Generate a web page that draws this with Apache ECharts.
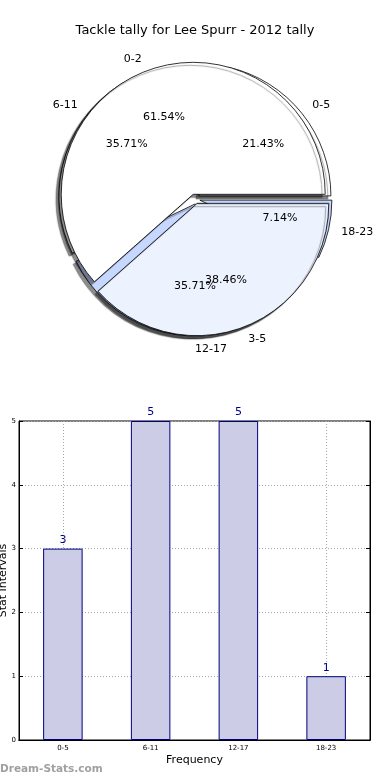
<!DOCTYPE html>
<html><head><meta charset="utf-8">
<script src="https://cdn.jsdelivr.net/npm/echarts@6/dist/echarts.min.js"></script>
<style>html,body{margin:0;padding:0;background:#fff}#c{width:390px;height:780px}</style>
</head><body><div id="c"></div>
<script>
var titleText = 'Tackle tally for Lee Spurr - 2012 tally';
var pieANames = ['0-2', '3-5'];
var pieAValues = [8, 5];
var pieBNames = ['0-5', '6-11', '12-17', '18-23'];
var pieBValues = [3, 5, 5, 1];
var barCategories = ['0-5', '6-11', '12-17', '18-23'];
var barValues = [3, 5, 5, 1];
var yTicks = [0, 1, 2, 3, 4, 5];

var FONT = 'DejaVu Sans';
var R = 132, CX = 195, CY = 199, EXPLODE = 5;
var pieAColors = ['#ffffff', '#edf2ff'];
var pieBColors = ['#ffffff', '#ffffff', '#c6d8ff', '#c6d8ff'];

function sum(a) { return a.reduce(function (s, v) { return s + v; }, 0); }
// matplotlib aligns an outer label left when cos(mid) >= 0 (rounding), right otherwise
function leftAligned(values) {
  var tot = sum(values), acc = 0;
  return values.map(function (v) {
    var mid = (acc + v / 2) / tot * 2 * Math.PI; acc += v;
    return Math.cos(mid) > -1e-6;
  });
}
function mk(names, values, colors) {
  return names.map(function (n, i) {
    return { name: n, value: values[i], selected: true, itemStyle: { color: colors[i] } };
  });
}
function pctFmt(values) {
  var tot = sum(values);
  return function (p) { return (p.value / tot * 100).toFixed(2) + '%'; };
}

var shadow = { shadowColor: 'rgba(0,0,0,0.45)', shadowBlur: 1, shadowOffsetX: -3, shadowOffsetY: 3 };
function shapeSeries(names, values, colors, z) {
  var la = leftAligned(values);
  return {
    type: 'pie', center: [CX, CY], radius: [0, R], startAngle: 0, clockwise: false,
    selectedMode: 'multiple', selectedOffset: EXPLODE, avoidLabelOverlap: false, silent: true, z: z,
    itemStyle: Object.assign({ borderColor: '#000', borderWidth: 0.8 }, shadow),
    label: { show: true, position: 'outside', fontFamily: FONT, fontSize: 11, color: '#000', distanceToLabelLine: 0 },
    labelLine: { show: false, length: 13, length2: 0 },
    labelLayout: function (p) { return { hideOverlap: false, align: la[p.dataIndex] ? 'left' : 'right' }; },
    emphasis: { disabled: true },
    animation: false,
    data: mk(names, values, colors)
  };
}
function pctSeries(names, values, z) {
  return {
    type: 'pie', center: [CX, CY], radius: [R * 0.2, R], startAngle: 0, clockwise: false,
    selectedMode: 'multiple', selectedOffset: EXPLODE, avoidLabelOverlap: false, silent: true, z: z,
    itemStyle: { color: 'rgba(0,0,0,0)', borderWidth: 0 },
    label: { show: true, position: 'inside', formatter: pctFmt(values), fontFamily: FONT, fontSize: 11, color: '#000' },
    labelLine: { show: false },
    labelLayout: { hideOverlap: false },
    emphasis: { disabled: true },
    animation: false,
    data: mk(names, values, names.map(function () { return 'rgba(0,0,0,0)'; }))
  };
}

var gridDots = { color: '#a8a8a8', type: [1, 2], width: 1 };
var chart = echarts.init(document.getElementById('c'), null, { renderer: 'canvas' });
chart.setOption({
  backgroundColor: '#fff',
  animation: false,
  title: { text: titleText, left: 'center', top: 19, textStyle: { fontFamily: FONT, fontSize: 13, fontWeight: 'normal', color: '#000' } },
  graphic: [{ type: 'text', left: 0, top: 764, style: { text: 'Dream-Stats.com', font: 'bold 10.5px "DejaVu Sans"', fill: '#a0a0a0' } }],
  grid: { left: 19, right: 20, top: 421, bottom: 40, outerBoundsMode: 'none', containLabel: false, show: true, borderColor: '#000', borderWidth: 1, backgroundColor: '#fff' },
  xAxis: [{
    type: 'category', data: barCategories, boundaryGap: true,
    name: 'Frequency', nameLocation: 'middle', nameGap: 15, nameMoveOverlap: false,
    nameTextStyle: { fontFamily: FONT, fontSize: 11, color: '#000', verticalAlign: 'top' },
    axisLine: { lineStyle: { color: '#000' } },
    axisTick: { alignWithLabel: true, inside: true, length: 4, lineStyle: { color: '#000' } },
    axisLabel: { fontFamily: FONT, fontSize: 7, color: '#000', margin: 5 },
    splitLine: { show: true, alignWithLabel: true, lineStyle: gridDots }
  }, {
    type: 'category', data: barCategories, boundaryGap: true, position: 'top',
    axisLine: { lineStyle: { color: '#000' } },
    axisTick: { alignWithLabel: true, inside: true, length: 4, lineStyle: { color: '#000' } },
    axisLabel: { show: false }, splitLine: { show: false }
  }],
  yAxis: [{
    type: 'value', min: 0, max: 5, interval: 1,
    name: 'Stat Intervals', nameLocation: 'middle', nameGap: 10, nameMoveOverlap: false,
    nameTextStyle: { fontFamily: FONT, fontSize: 11, color: '#000' },
    axisLine: { show: true, lineStyle: { color: '#000' } },
    axisTick: { show: true, inside: true, length: 4, lineStyle: { color: '#000' } },
    axisLabel: { fontFamily: FONT, fontSize: 7, color: '#000', margin: 3, formatter: function (v) { return yTicks.indexOf(v) >= 0 ? String(v) : ''; } },
    splitLine: { show: true, lineStyle: gridDots }
  }, {
    type: 'value', min: 0, max: 5, interval: 1, position: 'right',
    axisLine: { show: true, lineStyle: { color: '#000' } },
    axisTick: { show: true, inside: true, length: 4, lineStyle: { color: '#000' } },
    axisLabel: { show: false }, splitLine: { show: false }
  }],
  series: [
    shapeSeries(pieBNames, pieBValues, pieBColors, 1),
    shapeSeries(pieANames, pieAValues, pieAColors, 2),
    pctSeries(pieBNames, pieBValues, 3),
    pctSeries(pieANames, pieAValues, 4),
    {
      type: 'bar', data: barValues, barWidth: '45%', z: 5, xAxisIndex: 0, yAxisIndex: 0,
      itemStyle: { color: '#ccccE6', borderColor: '#000080', borderWidth: 1 },
      label: { show: true, position: 'top', distance: 3, fontFamily: FONT, fontSize: 11, color: '#00008b' },
      emphasis: { disabled: true }
    }
  ]
});
</script></body></html>
